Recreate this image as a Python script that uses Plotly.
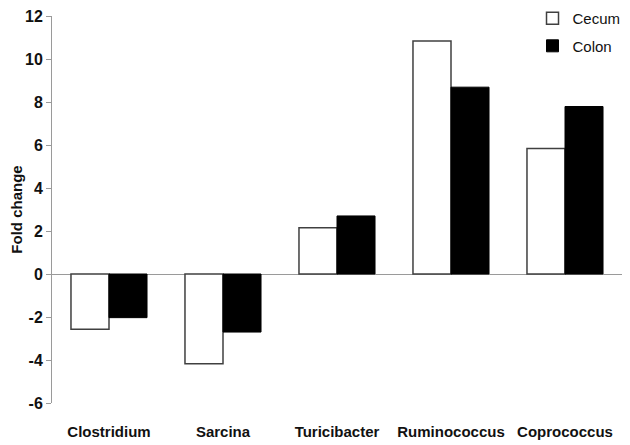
import plotly.graph_objects as go

categories = ["Clostridium", "Sarcina", "Turicibacter", "Ruminococcus", "Coprococcus"]
cecum = [-2.57, -4.17, 2.15, 10.84, 5.84]
colon = [-2.03, -2.70, 2.70, 8.69, 7.79]
y_ticks = [-6, -4, -2, 0, 2, 4, 6, 8, 10, 12]

font_bold = "Liberation Sans"

fig = go.Figure()
fig.add_trace(go.Bar(
    x=categories, y=cecum, name="Cecum", legendgroup="a",
    marker=dict(color="white", line=dict(color="#404040", width=1.5)),
))
fig.add_trace(go.Bar(
    x=categories, y=colon, name="Colon", legendgroup="b",
    marker=dict(color="black", line=dict(color="black", width=1)),
))

fig.update_layout(
    width=630, height=445,
    margin=dict(l=44, r=16, t=8, b=50, autoexpand=False),
    paper_bgcolor="white", plot_bgcolor="white",
    barmode="group", bargap=0.333, bargroupgap=0,
    font=dict(family=font_bold, color="#111111"),
    showlegend=True,
    legend=dict(
        x=0.843, y=1.036, xanchor="left", yanchor="top",
        font=dict(size=15, family=font_bold, color="#111111"),
        tracegroupgap=5, bgcolor="rgba(0,0,0,0)",
        itemwidth=30,
    ),
    xaxis=dict(
        showline=False, ticks="", showgrid=False, zeroline=False,
        automargin=False,
        tickfont=dict(size=15, family=font_bold, color="#111111"),
        ticklabelstandoff=18,
    ),
    yaxis=dict(
        range=[-6, 12], tickvals=y_ticks,
        ticktext=[f"<b>{v}</b>" for v in y_ticks],
        automargin=False, ticklabeloverflow="allow",
        showline=True, linecolor="#9a9a9a", linewidth=1,
        ticks="outside", ticklen=5, tickcolor="#9a9a9a",
        showgrid=False,
        zeroline=True, zerolinecolor="#9a9a9a", zerolinewidth=1,
        tickfont=dict(size=16, family=font_bold, color="#111111"),
        title=dict(text="<b>Fold change</b>", font=dict(size=15, family=font_bold, color="#111111"), standoff=4),
    ),
)
fig.update_xaxes(ticktext=[f"<b>{c}</b>" for c in categories], tickvals=categories)

fig.write_html("out.html")
